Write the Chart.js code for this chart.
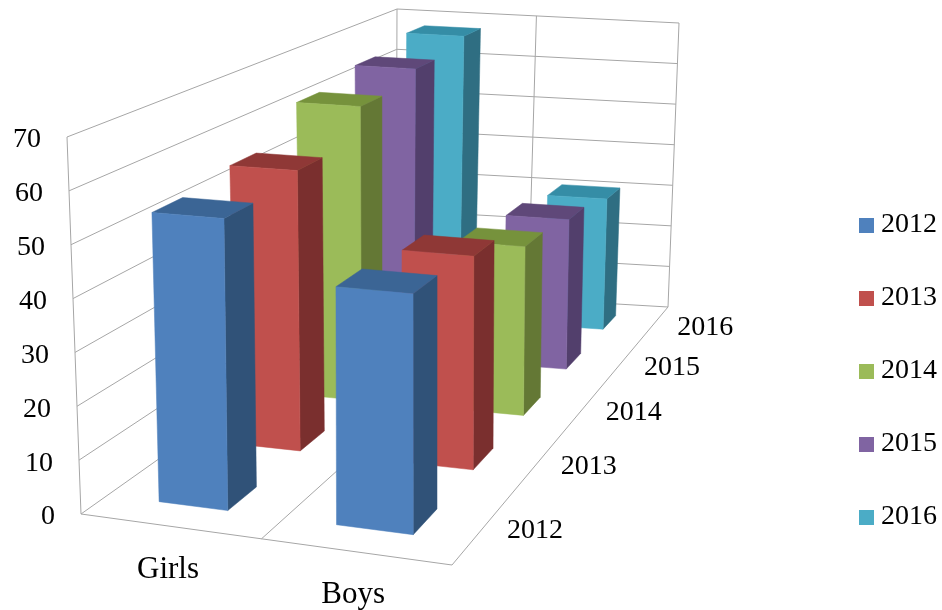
<!DOCTYPE html>
<html>
<head>
<meta charset="utf-8">
<style>
  html, body { margin: 0; padding: 0; background: #fff; }
  canvas { display: block; }
</style>
<script src="https://cdn.jsdelivr.net/npm/chart.js@4"></script>
</head>
<body>
<canvas id="myChart" width="942" height="610"></canvas>
<script>
const categories = ['Girls', 'Boys'];
const years = ['2012', '2013', '2014', '2015', '2016'];
const values2012 = [54.5, 43.7];
const values2013 = [56.3, 42];
const values2014 = [63, 35.6];
const values2015 = [65.5, 33.6];
const values2016 = [67.9, 31];
const yearValues = [values2012, values2013, values2014, values2015, values2016];

// front, top, side shades for each year
const frontColors = ['#4f81bd', '#c0504d', '#9bbb59', '#8064a2', '#4bacc6'];
const topColors = ['#3b6595', '#8f3836', '#76923c', '#5f4879', '#358da6'];
const sideColors = ['#305278', '#7a2f2e', '#647835', '#523f6c', '#2f6e82'];

// box corners on screen: front-left, front-right, back-right, back-left
const floorCorners = [[81, 514], [452, 565], [668, 307], [396, 291]];
const ceilingCorners = [[67, 137], [451, 165], [679, 23], [397, 9]];

const barHalfWidth = 0.1;
const barHalfDepth = 0.0375;
const floorDividerAt = 0.515;
const wallDividerAt = 0.505;
const labelFont = '28px "Liberation Serif"';
const categoryFont = '31px "Liberation Serif"';
const gridColor = '#a6a6a6';

// maps the unit square to a screen quad
function quadMap(q) {
    const [p0, p1, p2, p3] = q;
    const dx1 = p1[0] - p2[0], dx2 = p3[0] - p2[0], sx = p0[0] - p1[0] + p2[0] - p3[0];
    const dy1 = p1[1] - p2[1], dy2 = p3[1] - p2[1], sy = p0[1] - p1[1] + p2[1] - p3[1];
    const den = dx1 * dy2 - dx2 * dy1;
    const g = (sx * dy2 - dx2 * sy) / den;
    const h = (dx1 * sy - sx * dy1) / den;
    const a = p1[0] - p0[0] + g * p1[0], b = p3[0] - p0[0] + h * p3[0];
    const d = p1[1] - p0[1] + g * p1[1], e = p3[1] - p0[1] + h * p3[1];
    return (u, v) => {
        const w = g * u + h * v + 1;
        return [(a * u + b * v + p0[0]) / w, (d * u + e * v + p0[1]) / w];
    };
}

const floorMap = quadMap(floorCorners);
const ceilingMap = quadMap(ceilingCorners);

function project(u, v, level) {
    const f = floorMap(u, v), c = ceilingMap(u, v);
    return [f[0] + (c[0] - f[0]) * level, f[1] + (c[1] - f[1]) * level];
}

function line(ctx, a, b) {
    ctx.beginPath();
    ctx.moveTo(a[0], a[1]);
    ctx.lineTo(b[0], b[1]);
    ctx.stroke();
}

function face(ctx, color, pts) {
    ctx.fillStyle = color;
    ctx.strokeStyle = color;
    ctx.lineWidth = 0.5;
    ctx.beginPath();
    pts.forEach((p, i) => (i ? ctx.lineTo(p[0], p[1]) : ctx.moveTo(p[0], p[1])));
    ctx.closePath();
    ctx.fill();
    ctx.stroke();
}

function swatch(color) {
    const c = document.createElement('canvas');
    c.width = 15;
    c.height = 15;
    const g = c.getContext('2d');
    g.fillStyle = color;
    g.fillRect(0, 0, 15, 15);
    return c;
}

const box3d = {
    id: 'box3d',
    afterLayout(chart) {
        const l = chart.legend;
        l.left += 5;
        l.right += 5;
        l.top += 66;
        l.bottom += 66;
    },
    beforeDatasetsDraw(chart) {
        const ctx = chart.ctx;
        const y = chart.scales.y;
        const levelOf = (v) => (y.getPixelForValue(v) - y.bottom) / (y.top - y.bottom);

        ctx.save();
        // walls and floor
        ctx.strokeStyle = gridColor;
        ctx.lineWidth = 1;
        y.ticks.forEach((t) => {
            const lv = levelOf(t.value);
            line(ctx, project(0, 0, lv), project(0, 1, lv));
            line(ctx, project(0, 1, lv), project(1, 1, lv));
        });
        line(ctx, project(0, 0, 0), project(0, 0, 1));
        line(ctx, project(0, 1, 0), project(0, 1, 1));
        line(ctx, project(wallDividerAt, 1, 0), project(wallDividerAt, 1, 1));
        line(ctx, project(1, 1, 0), project(1, 1, 1));
        line(ctx, project(0, 0, 0), project(1, 0, 0));
        line(ctx, project(1, 0, 0), project(1, 1, 0));
        line(ctx, project(floorDividerAt, 0, 0), project(wallDividerAt, 1, 0));

        // bars, back row first
        for (let j = years.length - 1; j >= 0; j--) {
            const ds = chart.data.datasets[j];
            const vc = (j + 0.49) / years.length;
            const v0 = vc - barHalfDepth, v1 = vc + barHalfDepth;
            categories.forEach((cat, i) => {
                const uc = (i + 0.51) / categories.length;
                const u0 = uc - barHalfWidth, u1 = uc + barHalfWidth;
                const lv = levelOf(ds.data[i]);
                face(ctx, sideColors[j], [project(u1, v0, 0), project(u1, v1, 0), project(u1, v1, lv), project(u1, v0, lv)]);
                face(ctx, topColors[j], [project(u0, v0, lv), project(u1, v0, lv), project(u1, v1, lv), project(u0, v1, lv)]);
                face(ctx, frontColors[j], [project(u0, v0, 0), project(u1, v0, 0), project(u1, v0, lv), project(u0, v0, lv)]);
            });
        }

        // axis text
        ctx.fillStyle = '#000';
        ctx.textBaseline = 'middle';
        ctx.textAlign = 'right';
        ctx.font = labelFont;
        y.ticks.forEach((t) => {
            const p = project(0, 0, levelOf(t.value));
            ctx.fillText(String(t.value), p[0] - 26, p[1] + 3);
        });
        ctx.textAlign = 'center';
        years.forEach((yr, j) => {
            const p = floorMap(1, (j + 0.5) / years.length);
            ctx.fillText(yr, p[0] + 52, p[1] + 3);
        });
        ctx.font = categoryFont;
        categories.forEach((cat, i) => {
            const p = floorMap((i + 0.5) / categories.length, 0);
            ctx.fillText(cat, p[0] + 2, p[1] + 44);
        });
        ctx.restore();
        return false;
    },
};

const ctx = document.getElementById('myChart').getContext('2d');

let myChart = new Chart(ctx, {
    type: 'bar',
    plugins: [box3d],
    data: {
        labels: categories,
        datasets: years.map((yr, j) => ({
            label: yr,
            data: yearValues[j],
            backgroundColor: frontColors[j],
            pointStyle: swatch(frontColors[j]),
        })),
    },
    options: {
        responsive: false,
        animation: false,
        scales: {
            x: { display: false },
            y: { display: false, min: 0, max: 70, ticks: { stepSize: 10 } },
        },
        plugins: {
            tooltip: { enabled: false },
            legend: {
                position: 'right',
                labels: {
                    usePointStyle: true,
                    boxWidth: 1,
                    padding: 45,
                    color: '#000',
                    font: { family: 'Liberation Serif', size: 28 },
                },
            },
        },
    },
});
</script>
</body>
</html>
